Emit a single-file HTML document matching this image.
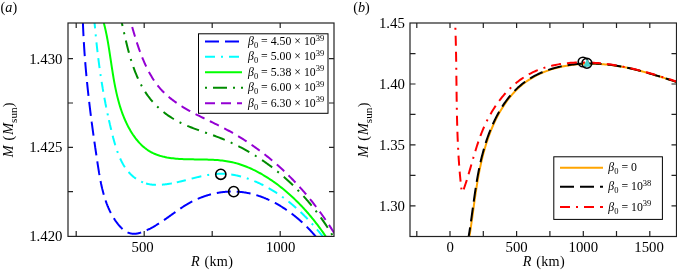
<!DOCTYPE html><html><head><meta charset="utf-8"><style>html,body{margin:0;padding:0;background:#fff;}svg{display:block;will-change:transform;}text{font-family:"Liberation Serif",serif;fill:#000;}</style></head><body>
<svg width="677" height="273" viewBox="0 0 677 273">
<rect width="677" height="273" fill="#fff"/>
<defs><clipPath id="ca"><rect x="68" y="23" width="266" height="213"/></clipPath><clipPath id="cb"><rect x="410.5" y="23" width="266" height="213"/></clipPath></defs>
<g clip-path="url(#ca)" fill="none" stroke-width="2" stroke-linecap="butt">
<path d="M130.56,21.38L130.93,22.69L131.31,24.02L131.69,25.36L132.08,26.71L132.48,28.08L132.88,29.45L133.28,30.84L133.69,32.24L134.11,33.65L134.54,35.07L134.97,36.50L135.41,37.93L135.86,39.37L136.31,40.82L136.78,42.27L137.25,43.72L137.74,45.18L138.23,46.64L138.73,48.10L139.25,49.56L139.77,51.02L140.31,52.48L140.86,53.94L141.41,55.40L141.99,56.85L142.57,58.30L143.17,59.74L143.78,61.18L144.40,62.61L145.04,64.03L145.69,65.45L146.35,66.85L147.03,68.25L147.73,69.63L148.44,71.00L149.16,72.36L149.91,73.71L150.67,75.04L151.44,76.36L152.23,77.66L153.05,78.95L153.87,80.21L154.72,81.46L155.59,82.69L156.47,83.90L157.37,85.09L158.30,86.26L159.24,87.41L160.20,88.53L161.18,89.63L162.18,90.71L163.21,91.77L164.24,92.81L165.30,93.82L166.37,94.82L167.46,95.80L168.57,96.76L169.69,97.70L170.83,98.62L171.98,99.53L173.15,100.42L174.33,101.30L175.53,102.16L176.73,103.00L177.95,103.83L179.19,104.65L180.43,105.46L181.68,106.25L182.95,107.03L184.22,107.80L185.51,108.56L186.80,109.31L188.10,110.06L189.41,110.79L190.73,111.51L192.06,112.23L193.39,112.94L194.73,113.64L196.07,114.33L197.42,115.03L198.77,115.71L200.13,116.39L201.49,117.07L202.86,117.75L204.22,118.42L205.59,119.09L206.97,119.76L208.34,120.43L209.71,121.10L211.09,121.77L212.46,122.44L213.83,123.11L215.21,123.78L216.58,124.46L217.95,125.14L219.31,125.82L220.68,126.51L222.03,127.20L223.39,127.90L224.74,128.60L226.09,129.31L227.43,130.03L228.76,130.75L230.09,131.48L231.42,132.22L232.74,132.97L234.05,133.72L235.36,134.48L236.66,135.25L237.96,136.02L239.25,136.80L240.54,137.59L241.82,138.38L243.10,139.19L244.37,139.99L245.63,140.81L246.89,141.63L248.15,142.46L249.40,143.30L250.64,144.14L251.88,144.99L253.11,145.84L254.34,146.71L255.56,147.57L256.78,148.45L257.99,149.33L259.19,150.22L260.39,151.12L261.59,152.02L262.78,152.93L263.96,153.84L265.14,154.76L266.32,155.69L267.48,156.62L268.65,157.56L269.81,158.51L270.96,159.46L272.10,160.42L273.25,161.39L274.38,162.36L275.51,163.34L276.64,164.32L277.76,165.31L278.87,166.30L279.98,167.31L281.09,168.31L282.19,169.33L283.28,170.35L284.37,171.37L285.45,172.41L286.53,173.44L287.60,174.49L288.67,175.54L289.73,176.59L290.79,177.65L291.84,178.72L292.89,179.79L293.93,180.87L294.96,181.96L295.99,183.05L297.02,184.14L298.04,185.24L299.05,186.35L300.06,187.46L301.07,188.58L302.07,189.70L303.06,190.83L304.05,191.96L305.03,193.10L306.01,194.25L306.98,195.40L307.95,196.55L308.91,197.71L309.87,198.88L310.82,200.05L311.76,201.23L312.71,202.41L313.64,203.60L314.57,204.79L315.50,205.99L316.42,207.19L317.33,208.40L318.24,209.61L319.15,210.83L320.05,212.05L320.94,213.28L321.83,214.51L322.71,215.75L323.59,216.99L324.47,218.24L325.33,219.49L326.20,220.75L327.06,222.01L327.91,223.28L328.76,224.55L329.60,225.82L330.44,227.10L331.27,228.39L332.09,229.68L332.92,230.97L333.73,232.27L334.54,233.58L335.35,234.88L336.15,236.20" stroke="#9400d3" stroke-dasharray="10 6" stroke-dashoffset="10.14"/>
<path d="M121.46,21.26L121.78,22.62L122.09,23.99L122.40,25.38L122.72,26.78L123.04,28.18L123.36,29.60L123.68,31.03L124.00,32.46L124.33,33.90L124.66,35.35L124.99,36.81L125.33,38.27L125.67,39.74L126.02,41.22L126.38,42.70L126.74,44.18L127.10,45.67L127.48,47.15L127.86,48.65L128.25,50.14L128.65,51.63L129.05,53.12L129.47,54.62L129.90,56.11L130.33,57.60L130.78,59.09L131.24,60.57L131.71,62.06L132.19,63.53L132.68,65.01L133.19,66.48L133.71,67.94L134.24,69.40L134.79,70.85L135.35,72.29L135.93,73.72L136.52,75.15L137.12,76.56L137.75,77.97L138.38,79.36L139.04,80.75L139.71,82.12L140.39,83.48L141.10,84.83L141.82,86.16L142.56,87.48L143.31,88.79L144.09,90.08L144.88,91.35L145.69,92.61L146.52,93.85L147.37,95.07L148.24,96.28L149.13,97.46L150.04,98.63L150.97,99.77L151.92,100.90L152.89,102.01L153.88,103.10L154.88,104.17L155.91,105.23L156.95,106.26L158.01,107.28L159.08,108.27L160.18,109.25L161.29,110.21L162.41,111.15L163.56,112.07L164.72,112.97L165.89,113.85L167.08,114.72L168.28,115.56L169.50,116.39L170.74,117.20L171.98,117.99L173.24,118.76L174.52,119.51L175.81,120.25L177.11,120.97L178.42,121.66L179.75,122.34L181.08,123.01L182.43,123.65L183.79,124.28L185.16,124.89L186.54,125.49L187.93,126.08L189.32,126.65L190.72,127.21L192.13,127.76L193.55,128.31L194.97,128.84L196.40,129.37L197.83,129.89L199.27,130.41L200.70,130.92L202.14,131.43L203.59,131.93L205.03,132.44L206.48,132.95L207.92,133.45L209.36,133.96L210.81,134.47L212.25,134.99L213.69,135.51L215.12,136.04L216.55,136.57L217.98,137.11L219.40,137.66L220.82,138.22L222.23,138.79L223.64,139.37L225.04,139.96L226.43,140.56L227.82,141.16L229.21,141.78L230.59,142.40L231.96,143.04L233.33,143.68L234.69,144.33L236.05,144.99L237.40,145.67L238.75,146.35L240.09,147.03L241.43,147.73L242.76,148.44L244.08,149.15L245.40,149.88L246.71,150.61L248.02,151.35L249.32,152.10L250.62,152.86L251.91,153.63L253.19,154.40L254.47,155.19L255.74,155.98L257.01,156.78L258.27,157.59L259.53,158.41L260.78,159.23L262.02,160.07L263.26,160.91L264.49,161.76L265.72,162.62L266.94,163.49L268.15,164.36L269.36,165.25L270.56,166.14L271.76,167.04L272.95,167.95L274.13,168.86L275.31,169.79L276.48,170.72L277.65,171.66L278.81,172.60L279.96,173.56L281.11,174.52L282.25,175.49L283.39,176.47L284.51,177.45L285.64,178.44L286.75,179.44L287.86,180.45L288.97,181.47L290.07,182.49L291.16,183.52L292.24,184.56L293.32,185.60L294.39,186.65L295.46,187.71L296.52,188.78L297.57,189.85L298.62,190.93L299.66,192.02L300.69,193.11L301.72,194.21L302.74,195.32L303.75,196.44L304.76,197.56L305.76,198.69L306.75,199.82L307.74,200.97L308.72,202.11L309.70,203.27L310.66,204.43L311.63,205.60L312.58,206.78L313.53,207.96L314.47,209.15L315.40,210.34L316.33,211.54L317.25,212.75L318.16,213.97L319.07,215.19L319.97,216.41L320.86,217.65L321.75,218.89L322.63,220.13L323.50,221.38L324.37,222.64L325.22,223.90L326.08,225.17L326.92,226.45L327.76,227.73L328.59,229.02L329.41,230.31L330.23,231.61L331.04,232.92L331.84,234.23L332.63,235.54L333.42,236.86L334.20,238.19" stroke="#008c00" stroke-dasharray="12.5 6.5 2 6.5" stroke-dashoffset="7.67"/>
<path d="M103.43,21.48L103.80,22.86L104.16,24.24L104.52,25.63L104.86,27.03L105.19,28.43L105.51,29.85L105.82,31.27L106.13,32.69L106.42,34.13L106.71,35.57L106.99,37.02L107.27,38.47L107.53,39.93L107.80,41.40L108.05,42.87L108.30,44.34L108.55,45.82L108.79,47.31L109.03,48.80L109.27,50.29L109.50,51.79L109.73,53.29L109.96,54.79L110.18,56.30L110.41,57.81L110.64,59.32L110.86,60.83L111.09,62.35L111.31,63.86L111.54,65.38L111.77,66.90L112.00,68.42L112.24,69.94L112.48,71.46L112.72,72.98L112.97,74.50L113.22,76.02L113.47,77.54L113.73,79.06L114.00,80.58L114.27,82.10L114.55,83.61L114.84,85.12L115.13,86.63L115.44,88.14L115.75,89.65L116.07,91.15L116.40,92.64L116.74,94.14L117.09,95.63L117.45,97.12L117.83,98.60L118.21,100.08L118.61,101.55L119.02,103.02L119.44,104.48L119.88,105.94L120.33,107.39L120.79,108.83L121.28,110.27L121.77,111.70L122.28,113.13L122.81,114.55L123.36,115.95L123.92,117.36L124.50,118.75L125.10,120.14L125.72,121.51L126.35,122.88L127.01,124.24L127.68,125.59L128.38,126.93L129.10,128.26L129.84,129.58L130.60,130.88L131.38,132.17L132.18,133.44L133.00,134.70L133.85,135.93L134.72,137.14L135.61,138.34L136.52,139.50L137.46,140.64L138.42,141.76L139.40,142.84L140.41,143.90L141.44,144.92L142.49,145.91L143.57,146.87L144.67,147.79L145.80,148.67L146.95,149.52L148.13,150.32L149.33,151.09L150.56,151.81L151.81,152.49L153.09,153.12L154.39,153.71L155.72,154.27L157.06,154.78L158.43,155.26L159.81,155.70L161.22,156.11L162.64,156.49L164.07,156.83L165.53,157.15L166.99,157.44L168.47,157.70L169.96,157.93L171.47,158.14L172.98,158.33L174.51,158.50L176.04,158.65L177.58,158.77L179.12,158.89L180.67,158.98L182.22,159.07L183.78,159.14L185.34,159.19L186.90,159.24L188.46,159.28L190.02,159.32L191.58,159.35L193.14,159.37L194.69,159.39L196.24,159.41L197.79,159.43L199.34,159.45L200.89,159.47L202.43,159.49L203.97,159.52L205.50,159.55L207.03,159.59L208.56,159.63L210.09,159.68L211.61,159.75L213.13,159.82L214.64,159.91L216.15,160.01L217.65,160.12L219.15,160.25L220.65,160.39L222.14,160.56L223.63,160.74L225.11,160.94L226.58,161.16L228.05,161.41L229.52,161.68L230.97,161.98L232.43,162.30L233.87,162.64L235.31,163.01L236.75,163.40L238.17,163.82L239.59,164.25L241.01,164.72L242.42,165.20L243.82,165.70L245.22,166.23L246.61,166.77L247.99,167.34L249.37,167.92L250.74,168.53L252.10,169.15L253.45,169.79L254.80,170.45L256.15,171.13L257.48,171.82L258.81,172.53L260.13,173.25L261.44,173.99L262.75,174.75L264.05,175.52L265.34,176.30L266.63,177.10L267.90,177.91L269.17,178.73L270.43,179.57L271.69,180.42L272.93,181.27L274.17,182.14L275.40,183.03L276.63,183.92L277.84,184.82L279.05,185.74L280.25,186.67L281.44,187.60L282.63,188.55L283.80,189.51L284.97,190.47L286.13,191.45L287.28,192.44L288.43,193.43L289.57,194.44L290.69,195.45L291.81,196.48L292.93,197.51L294.03,198.55L295.13,199.60L296.22,200.66L297.30,201.72L298.37,202.79L299.43,203.88L300.49,204.96L301.54,206.06L302.58,207.16L303.61,208.27L304.63,209.39L305.65,210.52L306.65,211.65L307.65,212.78L308.64,213.93L309.62,215.08L310.60,216.23L311.56,217.39L312.52,218.56L313.46,219.73L314.40,220.90L315.33,222.08L316.26,223.27L317.17,224.46L318.08,225.66L318.97,226.85L319.86,228.06L320.74,229.26L321.61,230.48L322.47,231.69L323.33,232.91L324.17,234.13L325.01,235.35L325.84,236.58L326.65,237.81" stroke="#00ff00"/>
<path d="M94.38,20.66L94.43,21.19L94.47,21.71L94.52,22.24L94.57,22.76L94.61,23.28L94.66,23.80L94.70,24.33L94.75,24.85L94.80,25.37L94.85,25.89L94.89,26.41L94.94,26.92L94.99,27.44L95.03,27.96L95.08,28.48L95.13,28.99L95.18,29.51L95.23,30.02L95.28,30.54L95.32,31.05L95.37,31.57L95.42,32.08L95.47,32.59L95.52,33.11L95.57,33.62L95.62,34.13L95.67,34.64L95.72,35.15L95.77,35.66L95.82,36.17L95.87,36.68L95.92,37.19L95.98,37.69L96.03,38.20L96.08,38.71L96.13,39.22L96.18,39.72L96.24,40.23L96.29,40.73L96.34,41.24L96.39,41.74L96.45,42.25L96.50,42.75L96.55,43.25L96.61,43.76L96.66,44.26L96.72,44.76L96.77,45.26L96.83,45.76L96.88,46.26L96.94,46.76L96.99,47.26L97.05,47.76L97.11,48.26L97.16,48.76L97.22,49.26L97.28,49.76L97.33,50.26L97.39,50.76L97.45,51.25L97.51,51.75L97.56,52.25L97.62,52.74L97.68,53.24L97.74,53.73L97.80,54.23L97.86,54.72L97.92,55.22L97.98,55.71L98.04,56.21L98.10,56.70L98.16,57.20L98.22,57.69L98.28,58.18L98.34,58.67L98.41,59.17L98.47,59.66L98.53,60.15L98.59,60.64L98.66,61.13L98.72,61.63L98.78,62.12L98.85,62.61L98.91,63.10L98.98,63.59L99.04,64.08L99.11,64.57L99.17,65.06L99.24,65.55L99.31,66.04L99.37,66.53L99.44,67.02L99.51,67.50L99.57,67.99L99.64,68.48L99.71,68.97L99.78,69.46L99.85,69.94L99.92,70.43L99.98,70.92L100.05,71.41L100.12,71.89L100.19,72.38L100.27,72.87L100.34,73.36L100.41,73.84L100.48,74.33L100.55,74.82L100.62,75.30L100.70,75.79L100.77,76.27L100.84,76.76L100.92,77.25L100.99,77.73L101.07,78.22L101.14,78.70L101.22,79.19L101.29,79.67L101.37,80.16L101.44,80.65L101.52,81.13L101.60,81.62L101.67,82.10L101.75,82.59L101.83,83.07L101.91,83.56L101.99,84.04L102.07,84.53L102.15,85.01L102.23,85.50L102.31,85.98L102.39,86.47L102.47,86.95L102.55,87.44L102.63,87.92L102.71,88.41L102.80,88.89L102.88,89.38L102.96,89.86L103.05,90.35L103.13,90.83L103.21,91.32L103.30,91.80L103.38,92.29L103.47,92.77L103.56,93.26L103.64,93.75L103.73,94.23L103.82,94.72L103.91,95.20L103.99,95.69L104.08,96.17L104.17,96.66L104.26,97.15L104.35,97.63L104.44,98.12L104.53,98.61L104.62,99.09L104.71,99.58L104.81,100.06L104.90,100.55L104.99,101.04L105.09,101.53L105.18,102.01L105.27,102.50L105.37,102.99L105.46,103.48L105.56,103.96L105.65,104.45L105.75,104.94L105.85,105.43L105.95,105.92L106.04,106.41L106.14,106.89L106.24,107.38L106.34,107.87L106.44,108.36L106.54,108.85L106.64,109.34L106.74,109.83L106.84,110.32L106.94,110.81L107.05,111.30L107.15,111.79L107.25,112.29L107.36,112.78L107.46,113.27L107.56,113.76L107.67,114.25L107.78,114.75L107.88,115.24L107.99,115.73" stroke="#00ffff" stroke-dasharray="10 6 2 6 10 6" stroke-dashoffset="2.28"/><path d="M107.99,115.73L108.10,116.22L108.20,116.72L108.31,117.21L108.42,117.71L108.53,118.20L108.64,118.69L108.75,119.19L108.86,119.69L108.97,120.18L109.08,120.68L109.19,121.17L109.31,121.67L109.42,122.17L109.53,122.66L109.65,123.16L109.76,123.66L109.88,124.16L109.99,124.66L110.11,125.15L110.23,125.65L110.34,126.15L110.46,126.65L110.58,127.15L110.70,127.66L110.82,128.16L110.94,128.66L111.06,129.16L111.18,129.66L111.30,130.16L111.42,130.67L111.54,131.17L111.67,131.68L111.79,132.18L111.91,132.68L112.04,133.19L112.16,133.70L112.29,134.20L112.42,134.71L112.54,135.21L112.67,135.72L112.80,136.23L112.93,136.73L113.06,137.24L113.19,137.75L113.33,138.25L113.46,138.76L113.59,139.26L113.73,139.77L113.87,140.28L114.00,140.78L114.14,141.29L114.28,141.79L114.43,142.29L114.57,142.80L114.71,143.30L114.86,143.80L115.01,144.30L115.15,144.80L115.31,145.30L115.46,145.80L115.61,146.30L115.77,146.80L115.92,147.29L116.08,147.79L116.24,148.28L116.40,148.78L116.57,149.27L116.73,149.76L116.90,150.25L117.07,150.73L117.24,151.22L117.41,151.71L117.59,152.19L117.77,152.67L117.95,153.15L118.13,153.63L118.31,154.11L118.50,154.58L118.69,155.06L118.88,155.53L119.07,156.00L119.27,156.47L119.46,156.93L119.67,157.40L119.87,157.86L120.07,158.32L120.28,158.78L120.49,159.23L120.71,159.69L120.92,160.14L121.14,160.59L121.36,161.03L121.59,161.48L121.82,161.92L122.05,162.36L122.28,162.79L122.52,163.23L122.76,163.66L123.00,164.09L123.25,164.51L123.49,164.93L123.75,165.35L124.00,165.77L124.26,166.18L124.52,166.60L124.79,167.00L125.06,167.41L125.33,167.81L125.60,168.21L125.88,168.60L126.17,168.99L126.45,169.38L126.74,169.77L127.04,170.15L127.33,170.52L127.63,170.90L127.94,171.27L128.25,171.64L128.56,172.00L128.88,172.36L129.20,172.71L129.52,173.07L129.85,173.41L130.18,173.76L130.52,174.10L130.86,174.43L131.20,174.76L131.55,175.09L131.90,175.41L132.26,175.73L132.62,176.05L132.98,176.36L133.35,176.66L133.73,176.96L134.10,177.26L134.48,177.55L134.86,177.84L135.25,178.12L135.64,178.40L136.03,178.67L136.43,178.94L136.83,179.20L137.24,179.46L137.64,179.71L138.05,179.95L138.47,180.19L138.88,180.43L139.30,180.66L139.73,180.89L140.15,181.10L140.58,181.32L141.01,181.53L141.45,181.73L141.88,181.92L142.32,182.11L142.76,182.30L143.21,182.48" stroke="#00ffff" stroke-dasharray="10 6 2 6 10 6" stroke-dashoffset="19.50"/><path d="M143.21,182.48L143.66,182.65L144.10,182.81L144.56,182.97L145.01,183.13L145.47,183.27L145.93,183.41L146.39,183.55L146.85,183.68L147.32,183.80L147.78,183.91L148.25,184.02L148.72,184.12L149.20,184.21L149.67,184.30L150.15,184.38L150.63,184.45L151.11,184.52L151.59,184.58L152.07,184.64L152.56,184.69L153.04,184.73L153.53,184.77L154.02,184.81L154.51,184.83L155.00,184.86L155.49,184.87L155.98,184.89L156.47,184.89L156.96,184.90L157.46,184.89L157.95,184.89L158.45,184.88L158.94,184.86L159.44,184.84L159.93,184.82L160.43,184.80L160.93,184.77L161.42,184.73L161.92,184.69L162.42,184.65L162.91,184.61L163.41,184.56L163.91,184.51L164.40,184.46L164.90,184.41L165.39,184.35L165.89,184.29L166.39,184.22L166.88,184.15L167.38,184.08L167.87,184.01L168.37,183.94L168.86,183.86L169.36,183.78L169.85,183.70L170.35,183.61L170.85,183.53L171.34,183.44L171.84,183.35L172.33,183.25L172.83,183.16L173.32,183.06L173.82,182.96L174.31,182.86L174.81,182.76L175.30,182.65L175.80,182.55L176.29,182.44L176.79,182.33" stroke="#00ffff" stroke-dasharray="10 6 2 6 10 6" stroke-dashoffset="20.99"/><path d="M176.79,182.33L177.28,182.22L177.78,182.11L178.27,181.99L178.77,181.88L179.26,181.76L179.76,181.64L180.25,181.52L180.75,181.41L181.24,181.28L181.74,181.16L182.23,181.04L182.72,180.92L183.22,180.79L183.71,180.67L184.21,180.54L184.70,180.42L185.20,180.29L185.69,180.17L186.19,180.04L186.68,179.91L187.18,179.78L187.67,179.66L188.16,179.53L188.66,179.40L189.15,179.27L189.65,179.14L190.14,179.02L190.64,178.89L191.13,178.76L191.63,178.63L192.12,178.51L192.61,178.38L193.11,178.25L193.60,178.13L194.10,178.00L194.59,177.88L195.09,177.75L195.58,177.63L196.08,177.51L196.57,177.39L197.06,177.27L197.56,177.15L198.05,177.03L198.55,176.91L199.04,176.80L199.54,176.68L200.03,176.57L200.53,176.46L201.02,176.34L201.52,176.24L202.01,176.13L202.50,176.02L203.00,175.92L203.49,175.81L203.99,175.71L204.48,175.61L204.98,175.52L205.47,175.42L205.97,175.33L206.46,175.24L206.96,175.15L207.45,175.06L207.95,174.98L208.44,174.90L208.94,174.82L209.43,174.74L209.93,174.66L210.42,174.59L210.92,174.52L211.42,174.46" stroke="#00ffff" stroke-dasharray="10 6 2 6 10 6" stroke-dashoffset="24.71"/><path d="M211.42,174.46L211.91,174.39L212.41,174.33L212.90,174.27L213.40,174.22L213.89,174.16L214.39,174.11L214.88,174.07L215.38,174.02L215.88,173.98L216.37,173.95L216.87,173.91L217.36,173.88L217.86,173.86L218.36,173.83L218.85,173.82L219.35,173.80L219.84,173.79L220.34,173.78L220.84,173.78L221.33,173.77L221.83,173.78L222.33,173.78L222.82,173.80L223.32,173.81L223.82,173.83L224.31,173.85L224.81,173.87L225.31,173.90L225.80,173.93L226.30,173.97L226.79,174.01L227.29,174.05L227.79,174.10L228.28,174.15L228.78,174.20L229.27,174.26L229.77,174.32L230.26,174.38L230.76,174.45L231.25,174.51L231.75,174.59L232.24,174.66L232.74,174.74L233.23,174.82L233.72,174.91L234.22,175.00L234.71,175.09L235.20,175.18L235.69,175.28L236.18,175.38L236.68,175.48L237.17,175.59L237.66,175.70L238.15,175.81L238.64,175.93L239.13,176.05L239.62,176.17L240.10,176.29L240.59,176.42L241.08,176.54L241.57,176.68L242.05,176.81L242.54,176.95L243.03,177.09L243.51,177.23L244.00,177.37L244.48,177.52L244.96,177.67L245.45,177.82L245.93,177.98L246.41,178.14L246.89,178.29L247.37,178.46L247.85,178.62L248.33,178.79L248.81,178.96L249.28,179.13L249.76,179.30L250.24,179.48L250.71,179.66L251.19,179.84L251.66,180.02L252.13,180.20L252.60,180.39L253.08,180.58L253.55,180.77L254.02,180.96L254.48,181.16L254.95,181.35L255.42,181.55L255.89,181.75L256.35,181.95L256.82,182.16L257.28,182.36L257.74,182.57L258.20,182.78L258.66,182.99L259.12,183.21L259.58,183.42L260.04,183.64L260.50,183.86L260.95,184.08L261.41,184.30L261.86,184.52L262.31,184.75L262.76,184.97L263.21,185.20L263.66,185.43L264.11,185.66L264.56,185.89L265.00,186.13L265.45,186.36L265.89,186.60L266.33,186.84L266.77,187.08L267.21,187.32L267.65,187.56L268.09,187.80L268.53,188.05L268.97,188.30L269.40,188.54L269.83,188.79L270.27,189.04L270.70,189.30L271.13,189.55L271.56,189.81L271.99,190.06L272.42,190.32L272.84,190.58L273.27,190.84L273.69,191.10L274.12,191.37L274.54,191.63L274.96,191.90L275.38,192.16L275.80,192.43L276.22,192.70L276.64,192.97L277.05,193.25L277.47,193.52L277.89,193.80L278.30,194.07L278.71,194.35L279.12,194.63L279.53,194.91L279.94,195.19L280.35,195.48L280.76,195.76L281.17,196.05L281.57,196.33L281.98,196.62L282.38,196.91L282.78,197.20L283.19,197.49L283.59,197.79L283.99,198.08L284.39,198.38L284.79,198.67L285.18,198.97L285.58,199.27L285.97,199.57L286.37,199.87L286.76,200.18L287.15,200.48L287.55,200.79L287.94,201.09L288.33,201.40L288.72,201.71L289.10,202.02L289.49,202.33L289.88,202.64L290.26,202.95L290.65,203.27L291.03,203.58L291.41,203.90L291.80,204.22L292.18,204.54L292.56,204.86L292.94,205.18L293.32,205.50L293.69,205.82L294.07,206.15L294.45,206.47L294.82,206.80L295.19,207.13L295.57,207.46L295.94,207.79L296.31,208.12L296.68,208.45L297.05,208.78L297.42,209.11L297.79,209.45L298.16,209.78L298.52,210.12L298.89,210.46L299.25,210.80L299.62,211.14L299.98,211.48L300.34,211.82L300.71,212.16L301.07,212.51L301.43,212.85L301.79,213.20L302.15,213.54L302.50,213.89L302.86,214.24L303.22,214.59L303.57,214.94L303.93,215.29L304.28,215.64L304.63,216.00L304.99,216.35L305.34,216.70L305.69,217.06L306.04,217.42L306.39,217.77L306.74,218.13L307.08,218.49L307.43,218.85L307.78,219.21L308.12,219.58L308.47,219.94L308.81,220.30L309.15,220.67L309.50,221.03L309.84,221.40L310.18,221.77L310.52,222.13L310.86,222.50L311.20,222.87L311.54,223.24L311.88,223.61L312.21,223.98L312.55,224.36L312.88,224.73L313.22,225.10L313.55,225.48L313.89,225.85L314.22,226.23L314.55,226.61L314.88,226.99L315.21,227.36L315.54,227.74L315.87,228.12L316.20,228.50L316.53,228.89L316.86,229.27L317.19,229.65L317.51,230.04L317.84,230.42L318.16,230.80L318.49,231.19L318.81,231.58L319.13,231.96L319.46,232.35L319.78,232.74L320.10,233.13L320.42,233.52L320.74,233.91L321.06,234.30L321.38,234.69L321.69,235.08L322.01,235.48L322.33,235.87L322.65,236.26L322.96,236.66L323.28,237.05L323.59,237.45L323.90,237.85" stroke="#00ffff" stroke-dasharray="10 6 2 6 10 6" stroke-dashoffset="20.10"/>
<path d="M82.84,20.75L82.86,21.26L82.87,21.77L82.89,22.29L82.91,22.80L82.93,23.31L82.95,23.83L82.97,24.34L82.99,24.85L83.01,25.37L83.03,25.88L83.05,26.39L83.07,26.90L83.09,27.41L83.11,27.92L83.14,28.43L83.16,28.94L83.18,29.45L83.20,29.96L83.23,30.47L83.25,30.98L83.27,31.49L83.30,32.00L83.32,32.51L83.34,33.02L83.37,33.53L83.39,34.03L83.42,34.54L83.44,35.05L83.47,35.56L83.50,36.06L83.52,36.57L83.55,37.08L83.58,37.59L83.60,38.09L83.63,38.60L83.66,39.10L83.69,39.61L83.72,40.11L83.74,40.62L83.77,41.12L83.80,41.63L83.83,42.13L83.86,42.64L83.89,43.14L83.92,43.65L83.95,44.15L83.98,44.65L84.01,45.16L84.05,45.66L84.08,46.16L84.11,46.67L84.14,47.17L84.17,47.67L84.21,48.18L84.24,48.68L84.27,49.18L84.31,49.68L84.34,50.18L84.37,50.68L84.41,51.19L84.44,51.69L84.48,52.19L84.51,52.69L84.55,53.19L84.58,53.69L84.62,54.19L84.66,54.69L84.69,55.19L84.73,55.69L84.76,56.19L84.80,56.69L84.84,57.19L84.88,57.69L84.91,58.19L84.95,58.69L84.99,59.18L85.03,59.68L85.07,60.18L85.11,60.68L85.15,61.18L85.19,61.68L85.23,62.17L85.27,62.67L85.31,63.17L85.35,63.67L85.39,64.16L85.43,64.66L85.47,65.16L85.51,65.66L85.55,66.15L85.60,66.65L85.64,67.15L85.68,67.64L85.72,68.14L85.77,68.64L85.81,69.13L85.85,69.63L85.90,70.12L85.94,70.62L85.99,71.12L86.03,71.61L86.08,72.11L86.12,72.60L86.17,73.10L86.21,73.59L86.26,74.09L86.30,74.58L86.35,75.08L86.39,75.57L86.44,76.07L86.49,76.56L86.53,77.06L86.58,77.55L86.63,78.05L86.68,78.54L86.73,79.04L86.77,79.53L86.82,80.02L86.87,80.52L86.92,81.01L86.97,81.51L87.02,82.00L87.07,82.49L87.12,82.99L87.17,83.48L87.22,83.97L87.27,84.47L87.32,84.96L87.37,85.45L87.42,85.95L87.47,86.44L87.52,86.93L87.57,87.43L87.62,87.92L87.68,88.41L87.73,88.91L87.78,89.40L87.83,89.89L87.89,90.39L87.94,90.88L87.99,91.37L88.05,91.86L88.10,92.36L88.15,92.85L88.21,93.34L88.26,93.84L88.32,94.33L88.37,94.82L88.43,95.31L88.48,95.81L88.54,96.30L88.59,96.79L88.65,97.28L88.71,97.78L88.76,98.27L88.82,98.76L88.87,99.25L88.93,99.75L88.99,100.24L89.04,100.73L89.10,101.22L89.16,101.72L89.22,102.21L89.28,102.70L89.33,103.19L89.39,103.69L89.45,104.18L89.51,104.67L89.57,105.16L89.63,105.66L89.69,106.15L89.75,106.64L89.81,107.13L89.86,107.63L89.92,108.12L89.99,108.61L90.05,109.10L90.11,109.60L90.17,110.09L90.23,110.58L90.29,111.07L90.35,111.57L90.41,112.06L90.47,112.55L90.53,113.04L90.60,113.54L90.66,114.03L90.72,114.52L90.78,115.02L90.85,115.51L90.91,116.00L90.97,116.50L91.04,116.99L91.10,117.48L91.16,117.97L91.23,118.47L91.29,118.96L91.35,119.45L91.42,119.95L91.48,120.44L91.55,120.94L91.61,121.43L91.68,121.92L91.74,122.42L91.81,122.91L91.87,123.40L91.94,123.90L92.00,124.39L92.07,124.89L92.14,125.38L92.20,125.87L92.27,126.37L92.33,126.86L92.40,127.36L92.47,127.85L92.54,128.35L92.60,128.84L92.67,129.34L92.74,129.83L92.80,130.33L92.87,130.82L92.94,131.32L93.01,131.81L93.08,132.31L93.15,132.80L93.21,133.30L93.28,133.80L93.35,134.29L93.42,134.79L93.49,135.28L93.56,135.78L93.63,136.28L93.70,136.77L93.77,137.27L93.84,137.77L93.91,138.26L93.98,138.76L94.05,139.26L94.12,139.75L94.19,140.25L94.26,140.75L94.33,141.25L94.40,141.74L94.47,142.24L94.54,142.74L94.62,143.24L94.69,143.73L94.76,144.23L94.83,144.73L94.90,145.23L94.97,145.73L95.05,146.23L95.12,146.73L95.19,147.23L95.26,147.73L95.34,148.22L95.41,148.72L95.48,149.22L95.56,149.72L95.63,150.22L95.70,150.72L95.78,151.22L95.85,151.73L95.92,152.23L96.00,152.73L96.07,153.23L96.15,153.73L96.22,154.23L96.29,154.73L96.37,155.23L96.44,155.74L96.52,156.24L96.59,156.74L96.67,157.24L96.74,157.75L96.82,158.25L96.89,158.75L96.97,159.25L97.05,159.76L97.12,160.26L97.20,160.77L97.27,161.27L97.35,161.77L97.43,162.28L97.50,162.78L97.58,163.29L97.65,163.79L97.73,164.30L97.81,164.80L97.89,165.31L97.96,165.81L98.04,166.32L98.12,166.82L98.20,167.33L98.28,167.84L98.36,168.34L98.44,168.85L98.52,169.35L98.60,169.86L98.68,170.36L98.76,170.87L98.84,171.37L98.93,171.88L99.01,172.38L99.09,172.89L99.18,173.39L99.26,173.90L99.35,174.40L99.44,174.91L99.52,175.41L99.61,175.92L99.70,176.42L99.79,176.92L99.88,177.43L99.97,177.93L100.07,178.43L100.16,178.93L100.25,179.44L100.35,179.94L100.45,180.44L100.54,180.94L100.64,181.44L100.74,181.94L100.84,182.44L100.94,182.94L101.05,183.44L101.15,183.94L101.26,184.43L101.36,184.93L101.47,185.43L101.58,185.92L101.69,186.42L101.80,186.91L101.92,187.41L102.03,187.90L102.15,188.39L102.26,188.89L102.38,189.38L102.50,189.87L102.63,190.36L102.75,190.85L102.87,191.34L103.00,191.83L103.13,192.32L103.26,192.80L103.39,193.29L103.52,193.77L103.66,194.26L103.79,194.74L103.93,195.22L104.07,195.71L104.21,196.19L104.36,196.67L104.50,197.15L104.65,197.62L104.80,198.10L104.95,198.58L105.11,199.05L105.26,199.53L105.42,200.00L105.58,200.47L105.74,200.94" stroke="#0000ff" stroke-dasharray="14 6" stroke-dashoffset="18.59"/><path d="M105.74,200.94L105.90,201.41L106.07,201.88L106.24,202.35L106.41,202.82L106.58,203.28L106.75,203.75L106.93,204.21L107.11,204.67L107.29,205.14L107.47,205.60L107.66,206.05L107.84,206.51L108.04,206.97L108.23,207.42L108.42,207.88L108.62,208.33L108.82,208.78L109.02,209.23L109.23,209.68L109.44,210.13L109.65,210.57L109.86,211.02L110.08,211.46L110.29,211.90L110.51,212.34L110.74,212.78L110.97,213.22L111.19,213.65L111.43,214.08L111.66,214.52L111.90,214.95L112.14,215.38L112.38,215.81L112.63,216.23L112.88,216.66L113.13,217.08L113.39,217.50L113.64,217.92L113.90,218.34L114.17,218.76L114.44,219.17L114.71,219.58L114.98,220.00L115.26,220.41L115.54,220.81L115.82,221.22L116.11,221.62L116.40,222.03L116.69,222.43L116.99,222.82L117.29,223.22L117.59,223.61L117.89,224.00L118.20,224.39L118.52,224.77L118.83,225.15L119.15,225.52L119.48,225.89L119.80,226.25L120.13,226.61L120.47,226.97L120.80,227.31L121.14,227.66L121.49,227.99L121.83,228.32L122.18,228.64L122.54,228.96L122.90,229.27L123.26,229.57L123.62,229.86L123.99,230.15L124.36,230.42L124.74,230.69L125.12,230.95L125.50,231.20L125.89,231.44L126.28,231.66L126.67,231.88L127.07,232.09L127.47,232.29L127.87,232.48L128.28,232.66L128.69,232.82L129.11,232.97L129.53,233.12L129.95,233.24L130.38,233.36L130.81,233.46L131.25,233.55L131.69,233.63L132.13,233.69L132.57,233.74L133.03,233.78L133.48,233.80L133.94,233.81L134.40,233.80L134.86,233.78L135.33,233.75L135.80,233.70L136.27,233.64L136.75,233.57L137.23,233.49L137.71,233.40L138.19,233.30L138.67,233.19L139.15,233.07L139.64,232.94L140.13,232.80L140.61,232.65L141.10,232.49L141.59,232.33L142.08,232.16L142.56,231.98L143.05,231.80L143.54,231.61L144.03,231.41L144.51,231.21L145.00,231.01L145.48,230.80L145.96,230.59L146.44,230.37L146.92,230.15L147.39,229.93L147.87,229.70L148.34,229.47L148.81,229.24L149.28,229.01L149.74,228.77L150.21,228.54L150.67,228.30L151.13,228.05L151.58,227.81L152.04,227.56L152.49,227.31L152.94,227.06L153.40,226.81L153.84,226.55L154.29,226.30L154.74,226.04L155.18,225.78L155.62,225.51L156.06,225.25L156.50,224.98L156.94,224.72L157.38,224.45L157.81,224.18L158.24,223.90L158.68,223.63L159.11,223.36L159.54,223.08L159.96,222.80L160.39,222.52L160.82,222.24L161.24,221.96L161.67,221.68L162.09,221.40L162.51,221.11L162.93,220.83L163.35,220.54L163.77,220.26L164.19,219.97L164.61,219.68L165.03,219.39L165.44,219.10L165.86,218.81L166.27,218.52L166.69,218.23L167.10,217.94L167.51,217.64L167.93,217.35L168.34,217.06L168.75,216.77L169.16,216.47L169.57,216.18L169.98,215.88L170.39,215.59L170.80,215.30L171.21,215.00L171.62,214.71L172.03,214.42L172.44,214.12L172.85,213.83L173.26,213.54L173.67,213.25L174.08,212.95L174.49,212.66L174.89,212.37L175.30,212.08L175.71,211.79L176.12,211.50L176.53,211.21L176.94,210.92L177.35,210.64L177.77,210.35L178.18,210.07L178.59,209.78L179.00,209.50L179.41,209.21L179.83,208.93L180.24,208.65L180.66,208.37L181.07,208.10L181.49,207.82L181.90,207.54L182.32,207.27L182.74,207.00L183.16,206.73L183.58,206.46L184.00,206.19L184.42,205.92L184.84,205.66L185.27,205.39L185.69,205.13L186.12,204.87L186.55,204.62L186.97,204.36L187.40,204.11L187.83,203.85L188.27,203.60L188.70,203.36L189.13,203.11L189.57,202.87L190.01,202.63L190.45,202.39L190.89,202.15L191.33,201.92L191.77,201.69L192.21,201.46L192.66,201.23L193.11,201.00L193.56,200.78L194.01,200.56L194.46,200.35L194.91,200.13L195.37,199.92L195.82,199.71L196.28,199.50L196.74,199.30L197.19,199.09L197.65,198.89L198.12,198.70L198.58,198.50L199.04,198.31L199.51,198.12L199.97,197.93L200.44,197.75L200.91,197.56L201.38,197.38L201.85,197.21L202.32,197.03L202.79,196.86L203.27,196.69L203.74,196.52L204.22,196.36L204.69,196.19L205.17,196.03L205.65,195.88L206.13,195.72L206.60,195.57L207.09,195.42L207.57,195.28L208.05,195.13L208.53,194.99L209.02,194.85L209.50,194.72L209.98,194.59L210.47,194.46L210.96,194.33L211.44,194.20L211.93,194.08L212.42,193.96L212.91,193.85L213.40,193.73L213.89,193.62L214.38,193.51L214.87,193.41L215.36,193.30L215.86,193.20L216.35,193.11L216.84,193.01L217.34,192.92L217.83,192.83L218.32,192.75L218.82,192.66L219.31,192.58L219.81,192.51L220.31,192.43L220.80,192.36L221.30,192.29L221.79,192.22L222.29,192.16L222.79,192.10L223.29,192.04L223.78,191.99L224.28,191.94L224.78,191.89L225.28,191.84L225.78,191.80L226.27,191.76L226.77,191.73L227.27,191.69L227.77,191.66L228.27,191.63L228.77,191.61L229.26,191.59L229.76,191.57L230.26,191.55L230.76,191.54L231.26,191.53L231.76,191.52L232.25,191.52L232.75,191.52L233.25,191.52L233.75,191.53L234.24,191.54L234.74,191.55L235.24,191.56L235.73,191.58L236.23,191.60L236.73,191.63L237.22,191.66L237.72,191.69L238.21,191.72L238.71,191.76L239.20,191.80L239.70,191.84L240.19,191.89L240.68,191.94L241.17,191.99L241.67,192.05L242.16,192.10L242.65,192.17L243.14,192.23L243.63,192.30L244.12,192.37L244.61,192.44L245.10,192.52L245.59,192.60L246.08,192.68L246.56,192.77L247.05,192.86L247.54,192.95L248.02,193.04L248.51,193.14L248.99,193.24L249.48,193.35L249.96,193.45L250.44,193.56L250.93,193.67L251.41,193.79L251.89,193.90L252.37,194.02L252.85,194.15L253.33,194.27L253.81,194.40L254.29,194.53L254.77,194.66L255.25,194.80L255.72,194.94L256.20,195.08L256.68,195.23L257.15,195.37L257.62,195.52L258.10,195.67L258.57,195.83L259.04,195.99L259.52,196.14L259.99,196.31L260.46,196.47L260.93,196.64L261.40,196.81L261.86,196.98L262.33,197.16L262.80,197.33L263.26,197.51L263.73,197.69L264.19,197.88L264.66,198.06L265.12,198.25L265.58,198.44L266.04,198.64L266.51,198.83L266.97,199.03L267.43,199.23L267.88,199.44L268.34,199.64L268.80,199.85L269.25,200.06L269.71,200.27L270.16,200.48L270.62,200.70L271.07,200.92L271.52,201.14L271.97,201.36L272.42,201.58L272.87,201.81L273.32,202.04L273.77,202.27L274.21,202.50L274.66,202.74L275.11,202.98L275.55,203.21L275.99,203.46L276.43,203.70L276.88,203.94L277.32,204.19L277.76,204.44L278.19,204.69L278.63,204.94L279.07,205.20L279.50,205.45L279.94,205.71L280.37,205.97L280.80,206.23L281.23,206.50L281.67,206.76L282.09,207.03L282.52,207.30L282.95,207.57L283.38,207.85L283.80,208.12L284.23,208.40L284.65,208.67L285.07,208.95L285.49,209.23L285.91,209.52L286.33,209.80L286.75,210.09L287.17,210.38L287.58,210.67L288.00,210.96L288.41,211.25L288.82,211.54L289.24,211.84L289.65,212.14L290.05,212.43L290.46,212.73L290.87,213.04L291.28,213.34L291.68,213.64L292.08,213.95L292.49,214.26L292.89,214.57L293.29,214.88L293.68,215.19L294.08,215.50L294.48,215.81L294.87,216.13L295.27,216.45L295.66,216.77L296.05,217.08L296.44,217.41L296.83,217.73L297.22,218.05L297.60,218.37L297.99,218.70L298.37,219.03L298.75,219.36L299.13,219.68L299.51,220.01L299.89,220.35L300.27,220.68L300.65,221.01L301.02,221.35L301.39,221.68L301.77,222.02L302.14,222.36L302.51,222.70L302.87,223.04L303.24,223.38L303.60,223.72L303.97,224.06L304.33,224.41L304.69,224.75L305.05,225.10L305.41,225.44L305.77,225.79L306.12,226.14L306.48,226.49L306.83,226.84L307.18,227.19L307.53,227.54L307.88,227.89L308.22,228.25L308.57,228.60L308.91,228.96L309.25,229.31L309.59,229.67L309.93,230.03L310.27,230.38L310.61,230.74L310.94,231.10L311.28,231.46L311.61,231.82L311.94,232.18L312.27,232.54L312.59,232.91L312.92,233.27L313.24,233.63L313.57,234.00L313.89,234.36L314.21,234.73L314.52,235.09L314.84,235.46L315.15,235.82L315.47,236.19L315.78,236.56L316.09,236.93L316.40,237.29L316.70,237.66" stroke="#0000ff" stroke-dasharray="14 6" stroke-dashoffset="0.96"/>
</g>
<circle cx="220.8" cy="174.3" r="5.1" fill="none" stroke="#000" stroke-width="1.6"/>
<circle cx="233.7" cy="191.6" r="5.1" fill="none" stroke="#000" stroke-width="1.6"/>
<rect x="68" y="23.0" width="266" height="213.4" fill="none" stroke="#222" stroke-width="1.2"/>
<path d="M76.2,236V231M76.2,23V28M144.2,236V231M144.2,23V28M212.2,236V231M212.2,23V28M280.2,236V231M280.2,23V28M68,58.6H73M334,58.6H329M68,103.0H73M334,103.0H329M68,147.3H73M334,147.3H329M68,191.7H73M334,191.7H329" stroke="#222" stroke-width="1.2" fill="none"/>
<g font-size="14.8" text-anchor="end">
<text x="62.5" y="63.6">1.430</text>
<text x="62.5" y="152.4">1.425</text>
<text x="62.5" y="241">1.420</text>
</g>
<g font-size="14.8" text-anchor="middle">
<text x="142.6" y="252.0">500</text>
<text x="280.6" y="252.0">1000</text>
</g>
<text x="191" y="265.8" font-size="14.2"><tspan font-style="italic">R</tspan><tspan dx="0.9" letter-spacing="0.3"> (km)</tspan></text>
<text transform="translate(12.6,157.3) rotate(-90)" font-size="14.2"><tspan font-style="italic">M</tspan><tspan dx="1.5"> (</tspan><tspan font-style="italic" dx="0.9">M</tspan><tspan font-size="11.2" dy="3.9">sun</tspan><tspan dy="-3.9" dx="0.3">)</tspan></text>
<text x="0.6" y="12.2" font-size="14.2">(<tspan font-style="italic">a</tspan>)</text>
<rect x="198.5" y="33.8" width="129.5" height="79.5" fill="#fff" stroke="#000" stroke-width="1"/>
<g stroke-width="2">
<path d="M205,41.6H242" stroke="#0000ff" stroke-dasharray="14 6"/>
<path d="M205,56.8H242" stroke="#00ffff" stroke-dasharray="10 6 2 6 10 6"/>
<path d="M205,72.2H242" stroke="#00ff00"/>
<path d="M205,87.8H243" stroke="#008c00" stroke-dasharray="2 6 14 6 2 6 2 20"/>
<path d="M205,103.3H242" stroke="#9400d3" stroke-dasharray="10 6"/>
</g>
<g font-size="11.8">
<text x="248" y="45.2"><tspan font-style="italic">&#946;</tspan><tspan font-size="8.5" dy="3">0</tspan><tspan dy="-3"> = 4.50 &#215; 10</tspan><tspan font-size="8.5" dy="-4.5">39</tspan></text>
<text x="248" y="60.4"><tspan font-style="italic">&#946;</tspan><tspan font-size="8.5" dy="3">0</tspan><tspan dy="-3"> = 5.00 &#215; 10</tspan><tspan font-size="8.5" dy="-4.5">39</tspan></text>
<text x="248" y="75.8"><tspan font-style="italic">&#946;</tspan><tspan font-size="8.5" dy="3">0</tspan><tspan dy="-3"> = 5.38 &#215; 10</tspan><tspan font-size="8.5" dy="-4.5">39</tspan></text>
<text x="248" y="91.4"><tspan font-style="italic">&#946;</tspan><tspan font-size="8.5" dy="3">0</tspan><tspan dy="-3"> = 6.00 &#215; 10</tspan><tspan font-size="8.5" dy="-4.5">39</tspan></text>
<text x="248" y="106.9"><tspan font-style="italic">&#946;</tspan><tspan font-size="8.5" dy="3">0</tspan><tspan dy="-3"> = 6.30 &#215; 10</tspan><tspan font-size="8.5" dy="-4.5">39</tspan></text>
</g>
<g clip-path="url(#cb)" fill="none" stroke-width="2">
<path d="M469.17,237.84L469.41,236.39L469.65,234.93L469.89,233.47L470.12,232.01L470.35,230.54L470.57,229.08L470.79,227.61L471.01,226.14L471.23,224.67L471.44,223.20L471.65,221.72L471.86,220.25L472.07,218.77L472.28,217.29L472.48,215.81L472.69,214.33L472.89,212.85L473.09,211.37L473.29,209.89L473.50,208.40L473.70,206.91L473.91,205.43L474.11,203.94L474.32,202.45L474.52,200.96L474.73,199.47L474.94,197.98L475.16,196.49L475.37,195.00L475.59,193.51L475.81,192.02L476.04,190.53L476.27,189.04L476.50,187.55L476.73,186.05L476.97,184.56L477.22,183.07L477.47,181.58L477.72,180.09L477.98,178.60L478.24,177.10L478.51,175.61L478.79,174.12L479.07,172.64L479.36,171.15L479.66,169.66L479.96,168.17L480.27,166.68L480.59,165.20L480.92,163.71L481.25,162.23L481.59,160.75L481.95,159.27L482.31,157.78L482.67,156.31L483.05,154.83L483.44,153.35L483.84,151.88L484.25,150.40L484.66,148.93L485.09,147.46L485.53,145.99L485.98,144.52L486.45,143.06L486.92,141.59L487.41,140.13L487.90,138.67L488.41,137.22L488.94,135.77L489.47,134.32L490.02,132.88L490.58,131.44L491.15,130.00L491.73,128.58L492.33,127.16L492.94,125.74L493.56,124.33L494.20,122.93L494.85,121.54L495.51,120.16L496.19,118.78L496.88,117.42L497.58,116.06L498.30,114.72L499.03,113.38L499.78,112.06L500.54,110.74L501.31,109.44L502.10,108.15L502.91,106.88L503.73,105.62L504.56,104.37L505.41,103.13L506.27,101.91L507.15,100.70L508.04,99.51L508.95,98.34L509.88,97.18L510.82,96.04L511.77,94.91L512.74,93.81L513.73,92.72L514.74,91.64L515.76,90.59L516.79,89.56L517.85,88.55L518.91,87.55L520.00,86.58L521.10,85.63L522.22,84.70L523.36,83.79L524.51,82.90L525.68,82.04L526.87,81.19L528.08,80.37L529.29,79.57L530.53,78.80L531.78,78.04L533.04,77.31L534.32,76.59L535.61,75.90L536.91,75.23L538.23,74.58L539.56,73.95L540.91,73.33L542.26,72.74L543.63,72.17L545.01,71.62L546.40,71.09L547.79,70.58L549.20,70.09L550.62,69.62L552.05,69.17L553.49,68.74L554.94,68.32L556.39,67.93L557.86,67.55L559.33,67.19L560.81,66.85L562.29,66.53L563.78,66.23L565.28,65.94L566.78,65.68L568.29,65.43L569.81,65.19L571.32,64.98L572.85,64.78L574.37,64.60L575.90,64.44L577.44,64.29L578.97,64.16L580.51,64.05L582.06,63.95L583.60,63.87L585.14,63.81L586.69,63.76L588.24,63.73L589.78,63.71L591.33,63.71L592.87,63.73L594.42,63.76L595.96,63.80L597.51,63.86L599.05,63.94L600.59,64.03L602.12,64.13L603.66,64.25L605.19,64.38L606.71,64.53L608.24,64.69L609.76,64.87L611.27,65.05L612.79,65.25L614.30,65.47L615.81,65.69L617.31,65.93L618.82,66.18L620.31,66.44L621.81,66.71L623.30,66.99L624.79,67.28L626.28,67.58L627.77,67.89L629.25,68.21L630.73,68.54L632.20,68.87L633.68,69.22L635.15,69.57L636.61,69.94L638.08,70.31L639.54,70.68L641.00,71.07L642.46,71.46L643.91,71.85L645.36,72.25L646.81,72.66L648.26,73.07L649.70,73.49L651.14,73.92L652.58,74.34L654.02,74.77L655.45,75.21L656.88,75.65L658.31,76.09L659.74,76.53L661.16,76.98L662.58,77.43L664.00,77.88L665.42,78.33L666.84,78.79L668.25,79.24L669.66,79.70L671.07,80.16L672.47,80.61L673.87,81.07L675.28,81.52L676.67,81.98L678.07,82.43L679.47,82.89" stroke="#ffa500"/>
<path d="M468.47,237.64L468.71,236.19L468.95,234.73L469.19,233.27L469.42,231.81L469.65,230.34L469.87,228.88L470.09,227.41L470.31,225.94L470.53,224.47L470.74,223.00L470.95,221.52L471.16,220.05L471.37,218.57L471.58,217.09L471.78,215.61L471.99,214.13L472.19,212.65L472.39,211.17L472.59,209.69L472.80,208.20L473.00,206.71L473.21,205.23L473.41,203.74L473.62,202.25L473.82,200.76L474.03,199.27L474.24,197.78L474.46,196.29L474.67,194.80L474.89,193.31L475.11,191.82L475.34,190.33L475.57,188.84L475.80,187.35L476.03,185.85L476.27,184.36L476.52,182.87L476.77,181.38L477.02,179.89L477.28,178.40L477.54,176.90L477.81,175.41L478.09,173.92L478.37,172.44L478.66,170.95L478.96,169.46L479.26,167.97L479.57,166.48L479.89,165.00L480.22,163.51L480.55,162.03L480.89,160.55L481.25,159.07L481.61,157.58L481.97,156.11L482.35,154.63L482.74,153.15L483.14,151.68L483.55,150.20L483.96,148.73L484.39,147.26L484.83,145.79L485.28,144.32L485.75,142.86L486.22,141.39L486.71,139.93L487.20,138.47L487.71,137.02L488.24,135.57L488.77,134.12L489.32,132.68L489.88,131.24L490.45,129.80L491.03,128.38L491.63,126.96L492.24,125.54L492.86,124.13L493.50,122.73L494.15,121.34L494.81,119.96L495.49,118.58L496.18,117.22L496.88,115.86L497.60,114.52L498.33,113.18L499.08,111.86L499.84,110.54L500.61,109.24L501.40,107.95L502.21,106.68L503.03,105.42L503.86,104.17L504.71,102.93L505.57,101.71L506.45,100.50L507.34,99.31L508.25,98.14L509.18,96.98L510.12,95.84L511.07,94.71L512.04,93.61L513.03,92.52L514.04,91.44L515.06,90.39L516.09,89.36L517.15,88.35L518.21,87.35L519.30,86.38L520.40,85.43L521.52,84.50L522.66,83.59L523.81,82.70L524.98,81.84L526.17,80.99L527.38,80.17L528.59,79.37L529.83,78.60L531.08,77.84L532.34,77.11L533.62,76.39L534.91,75.70L536.21,75.03L537.53,74.38L538.86,73.75L540.21,73.13L541.56,72.54L542.93,71.97L544.31,71.42L545.70,70.89L547.09,70.38L548.50,69.89L549.92,69.42L551.35,68.97L552.79,68.54L554.24,68.12L555.69,67.73L557.16,67.35L558.63,66.99L560.11,66.65L561.59,66.33L563.08,66.03L564.58,65.74L566.08,65.48L567.59,65.23L569.11,64.99L570.62,64.78L572.15,64.58L573.67,64.40L575.20,64.24L576.74,64.09L578.27,63.96L579.81,63.85L581.36,63.75L582.90,63.67L584.44,63.61L585.99,63.56L587.54,63.53L589.08,63.51L590.63,63.51L592.17,63.53L593.72,63.56L595.26,63.60L596.81,63.66L598.35,63.74L599.89,63.83L601.42,63.93L602.96,64.05L604.49,64.18L606.01,64.33L607.54,64.49L609.06,64.67L610.57,64.85L612.09,65.05L613.60,65.27L615.11,65.49L616.61,65.73L618.12,65.98L619.61,66.24L621.11,66.51L622.60,66.79L624.09,67.08L625.58,67.38L627.07,67.69L628.55,68.01L630.03,68.34L631.50,68.67L632.98,69.02L634.45,69.37L635.91,69.74L637.38,70.11L638.84,70.48L640.30,70.87L641.76,71.26L643.21,71.65L644.66,72.05L646.11,72.46L647.56,72.87L649.00,73.29L650.44,73.72L651.88,74.14L653.32,74.57L654.75,75.01L656.18,75.45L657.61,75.89L659.04,76.33L660.46,76.78L661.88,77.23L663.30,77.68L664.72,78.13L666.14,78.59L667.55,79.04L668.96,79.50L670.37,79.96L671.77,80.41L673.17,80.87L674.58,81.32L675.97,81.78L677.37,82.23L678.77,82.69" stroke="#000" stroke-dasharray="14 6" stroke-dashoffset="3.62"/>
<path d="M455.37,27.73L455.42,29.24L455.47,30.75L455.52,32.25L455.57,33.76L455.62,35.27L455.66,36.78L455.71,38.29L455.75,39.80L455.79,41.31L455.82,42.82L455.86,44.34L455.89,45.85L455.93,47.36L455.96,48.87L455.99,50.38L456.02,51.90L456.05,53.41L456.08,54.92L456.10,56.44L456.13,57.95L456.15,59.47L456.17,60.98L456.20,62.49L456.22,64.01L456.24,65.52L456.26,67.04L456.28,68.56L456.30,70.07L456.32,71.59L456.34,73.10L456.36,74.62L456.38,76.13L456.39,77.65L456.41,79.17L456.43,80.68L456.45,82.20L456.47,83.72L456.48,85.23L456.50,86.75L456.52,88.27L456.54,89.79L456.56,91.30L456.58,92.82L456.60,94.34L456.62,95.85L456.64,97.37L456.66,98.89L456.68,100.40L456.71,101.92L456.73,103.44L456.76,104.95L456.78,106.47L456.81,107.99L456.84,109.50L456.87,111.02L456.90,112.54L456.93,114.05L456.96,115.57L456.99,117.09L457.03,118.60L457.07,120.12L457.11,121.63L457.15,123.15L457.19,124.66L457.23,126.18L457.28,127.69L457.33,129.21L457.38,130.72L457.43,132.23L457.48,133.75L457.54,135.26L457.59,136.77L457.65,138.29L457.72,139.80L457.78,141.31L457.85,142.82L457.92,144.33L457.99,145.85L458.07,147.36L458.14,148.87L458.22,150.38L458.31,151.89L458.39,153.40L458.48,154.90L458.57,156.41L458.67,157.92L458.76,159.43L458.86,160.94L458.97,162.44L459.07,163.95L459.19,165.45L459.30,166.96L459.42,168.46L459.54,169.97L459.66,171.47L459.79,172.98L459.92,174.48L460.06,175.98L460.20,177.48L460.34,178.98L460.49,180.48L460.64,181.98L460.79,183.48L460.95,184.98L461.11,186.48L461.28,187.98L461.45,189.47" stroke="#ff0000" stroke-dasharray="10 6 10 6 2 6" stroke-dashoffset="32.01"/>
<path d="M463.54,189.69L464.02,188.36L464.49,187.02L464.96,185.67L465.41,184.31L465.86,182.94L466.31,181.57L466.75,180.18L467.18,178.79L467.61,177.39L468.04,175.98L468.46,174.57L468.88,173.15L469.30,171.73L469.72,170.30L470.14,168.86L470.55,167.42L470.97,165.98L471.38,164.53L471.80,163.08L472.22,161.63L472.64,160.17L473.06,158.71L473.49,157.25L473.92,155.79L474.35,154.33L474.79,152.86L475.24,151.40L475.69,149.93L476.14,148.47L476.61,147.01L477.08,145.55L477.56,144.09L478.04,142.63L478.54,141.17L479.05,139.72L479.56,138.27L480.09,136.82L480.63,135.38L481.18,133.94L481.74,132.51L482.31,131.08L482.90,129.66L483.50,128.24L484.12,126.83L484.75,125.43L485.39,124.03L486.05,122.64L486.72,121.26L487.41,119.89L488.12,118.52L488.83,117.17L489.56,115.82L490.31,114.48L491.07,113.15L491.85,111.83L492.63,110.53L493.44,109.23L494.25,107.95L495.09,106.67L495.93,105.41L496.79,104.16L497.67,102.92L498.56,101.70L499.46,100.49L500.37,99.30L501.31,98.11L502.25,96.95L503.21,95.79L504.18,94.66L505.17,93.53L506.17,92.43L507.19,91.34L508.21,90.27L509.26,89.21L510.31,88.17L511.38,87.15L512.47,86.15L513.57,85.16L514.68,84.20L515.81,83.25L516.95,82.33L518.10,81.42L519.27,80.53L520.45,79.67L521.64,78.82L522.85,78.00L524.07,77.20L525.31,76.42L526.56,75.66L527.82,74.92L529.09,74.21L530.38,73.52L531.69,72.86L533.00,72.22L534.33,71.60L535.67,71.00L537.02,70.43L538.39,69.88L539.76,69.35L541.15,68.84L542.55,68.36L543.96,67.89L545.37,67.45L546.80,67.03L548.24,66.62L549.68,66.24L551.13,65.88L552.59,65.54L554.06,65.21L555.54,64.91L557.02,64.63L558.51,64.36L560.01,64.11L561.51,63.88L563.02,63.67L564.53,63.48L566.05,63.30L567.57,63.14L569.10,62.99L570.63,62.87L572.16,62.76L573.70,62.66L575.24,62.58L576.78,62.52L578.33,62.47L579.88,62.44L581.42,62.42L582.97,62.42L584.52,62.43L586.07,62.45L587.62,62.49L589.17,62.54L590.72,62.61L592.27,62.69L593.82,62.78L595.36,62.88L596.90,63.00L598.44,63.12L599.98,63.26L601.52,63.41L603.05,63.57L604.57,63.74L606.10,63.93L607.62,64.12L609.13,64.32L610.65,64.54L612.16,64.76L613.66,64.99L615.16,65.24L616.66,65.49L618.16,65.75L619.65,66.02L621.14,66.30L622.63,66.58L624.11,66.88L625.60,67.18L627.07,67.49L628.55,67.81L630.02,68.14L631.49,68.47L632.96,68.82L634.42,69.16L635.88,69.52L637.34,69.88L638.80,70.25L640.25,70.62L641.71,71.00L643.16,71.39L644.60,71.78L646.05,72.18L647.49,72.58L648.94,72.98L650.37,73.40L651.81,73.81L653.25,74.23L654.68,74.66L656.11,75.09L657.54,75.52L658.97,75.95L660.40,76.39L661.82,76.84L663.25,77.28L664.67,77.73L666.09,78.18L667.51,78.64L668.93,79.09L670.35,79.55L671.76,80.01L673.18,80.47L674.59,80.93L676.00,81.40L677.42,81.86L678.83,82.33" stroke="#ff0000" stroke-dasharray="10 6 10 6 2 6" stroke-dashoffset="39.70"/>
</g>
<circle cx="583" cy="62" r="4.8" fill="none" stroke="#000" stroke-width="1.6"/>
<path d="M587.1,59.1L583.2,66.8H591.2Z" fill="#48d1cc"/>
<circle cx="586.9" cy="63.3" r="4.9" fill="none" stroke="#000" stroke-width="1.6"/>
<rect x="410" y="23.0" width="266.5" height="213.5" fill="none" stroke="#222" stroke-width="1.2"/>
<path d="M416.8,236V231M416.8,23V28M450.0,236V231M450.0,23V28M483.3,236V231M483.3,23V28M516.6,236V231M516.6,23V28M549.9,236V231M549.9,23V28M583.3,236V231M583.3,23V28M616.5,236V231M616.5,23V28M649.8,236V231M649.8,23V28M410,53.6H415.5M676.5,53.6H671.5M410,84.0H415.5M676.5,84.0H671.5M410,114.4H415.5M676.5,114.4H671.5M410,144.9H415.5M676.5,144.9H671.5M410,175.4H415.5M676.5,175.4H671.5M410,205.8H415.5M676.5,205.8H671.5" stroke="#222" stroke-width="1.2" fill="none"/>
<g font-size="14.8" text-anchor="end">
<text x="404.8" y="28.2">1.45</text>
<text x="405" y="88.8">1.40</text>
<text x="405" y="150">1.35</text>
<text x="405" y="210.8">1.30</text>
</g>
<g font-size="14.8" text-anchor="middle">
<text x="450.2" y="252.0">0</text>
<text x="516.6" y="252.0">500</text>
<text x="583.3" y="252.0">1000</text>
<text x="649.1" y="252.0">1500</text>
</g>
<text x="522.8" y="265.8" font-size="14.2"><tspan font-style="italic">R</tspan><tspan dx="0.9" letter-spacing="0.3"> (km)</tspan></text>
<text transform="translate(367.7,157.5) rotate(-90)" font-size="14.2"><tspan font-style="italic">M</tspan><tspan dx="1.5"> (</tspan><tspan font-style="italic" dx="0.9">M</tspan><tspan font-size="11.2" dy="3.9">sun</tspan><tspan dy="-3.9" dx="0.3">)</tspan></text>
<text x="353.2" y="12.2" font-size="14.2">(<tspan font-style="italic">b</tspan>)</text>
<rect x="553.8" y="156.8" width="108.6" height="62.6" fill="#fff" stroke="#000" stroke-width="1"/>
<g stroke-width="2">
<path d="M560,167.8H603" stroke="#ffa500"/>
<path d="M560,186.8H603" stroke="#000" stroke-dasharray="14 6"/>
<path d="M560,207.1H603" stroke="#ff0000" stroke-dasharray="10 6 2 6 10 6"/>
</g>
<g font-size="11.8">
<text x="608.3" y="171.4"><tspan font-style="italic">&#946;</tspan><tspan font-size="8.5" dy="3">0</tspan><tspan dy="-3"> = 0</tspan></text>
<text x="608.3" y="190.4"><tspan font-style="italic">&#946;</tspan><tspan font-size="8.5" dy="3">0</tspan><tspan dy="-3"> = 10</tspan><tspan font-size="8.5" dy="-4.5">38</tspan></text>
<text x="608.3" y="210.7"><tspan font-style="italic">&#946;</tspan><tspan font-size="8.5" dy="3">0</tspan><tspan dy="-3"> = 10</tspan><tspan font-size="8.5" dy="-4.5">39</tspan></text>
</g>
</svg></body></html>
